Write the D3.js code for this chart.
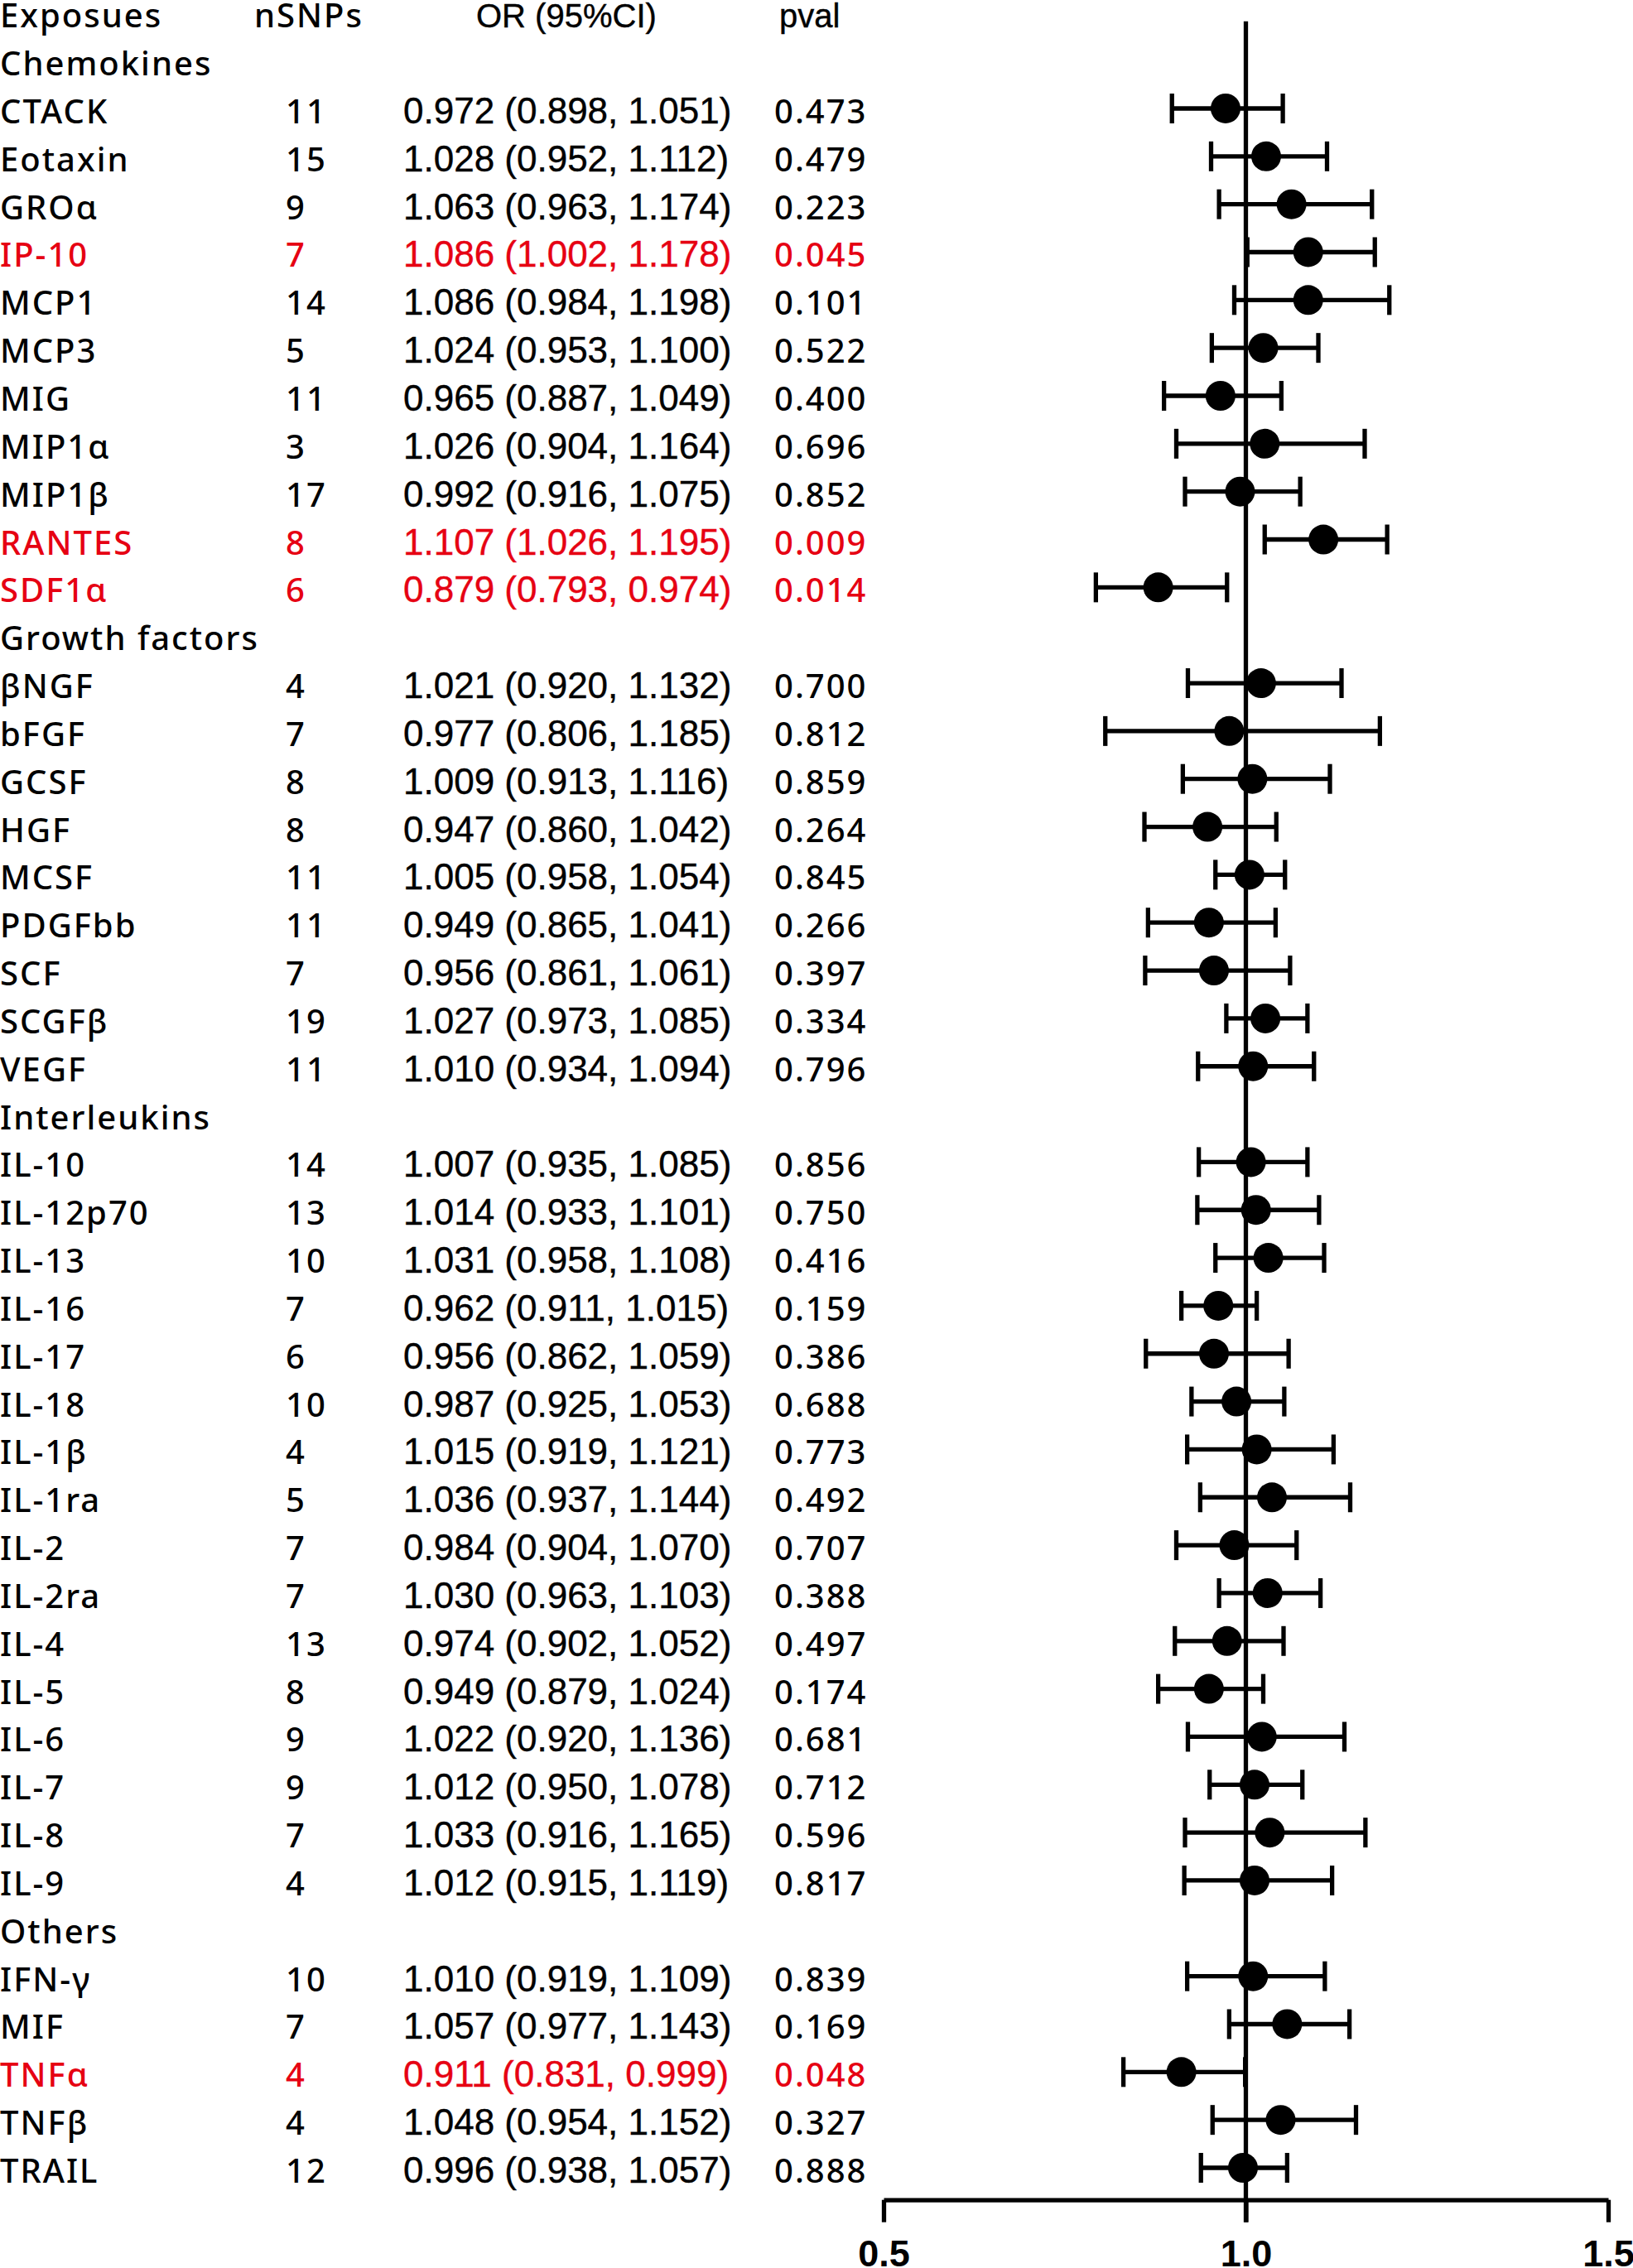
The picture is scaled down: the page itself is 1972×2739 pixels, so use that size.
<!DOCTYPE html>
<html lang="en">
  <head>
    <meta charset="UTF-8" />
    <title>Forest plot - cytokines</title>
    <script src="https://d3js.org/d3.v7.min.js"></script>
    <style>
      body {
        margin: 0;
        background: #fff;
      }
      svg {
        display: block;
        background: #fff;
      }
      .lab {
        font-family: "Noto Sans", sans-serif;
        font-size: 40px;
        font-weight: 500;
        letter-spacing: 2px;
        stroke-width: 0;
      }
      .num {
        font-family: "Liberation Sans", Arial, sans-serif;
        font-size: 44px;
        stroke-width: 0.4px;
      }
    </style>
  </head>
  <body>
    <svg id="forest" width="1972" height="2739"></svg>

    <script>
      // ---- data ----
      const groups = ["Chemokines", "Growth factors", "Interleukins", "Others"];

      const exposures = [
        "CTACK", "Eotaxin", "GROα", "IP-10", "MCP1", "MCP3", "MIG", "MIP1α", "MIP1β", "RANTES", "SDF1α",
        "βNGF", "bFGF", "GCSF", "HGF", "MCSF", "PDGFbb", "SCF", "SCGFβ", "VEGF",
        "IL-10", "IL-12p70", "IL-13", "IL-16", "IL-17", "IL-18", "IL-1β", "IL-1ra", "IL-2", "IL-2ra",
        "IL-4", "IL-5", "IL-6", "IL-7", "IL-8", "IL-9",
        "IFN-γ", "MIF", "TNFα", "TNFβ", "TRAIL",
      ];
      const exposureGroup = [
        0, 0, 0, 0, 0, 0, 0, 0, 0, 0, 0,
        1, 1, 1, 1, 1, 1, 1, 1, 1,
        2, 2, 2, 2, 2, 2, 2, 2, 2, 2, 2, 2, 2, 2, 2, 2,
        3, 3, 3, 3, 3,
      ];
      const nSNPs = [
        11, 15, 9, 7, 14, 5, 11, 3, 17, 8, 6,
        4, 7, 8, 8, 11, 11, 7, 19, 11,
        14, 13, 10, 7, 6, 10, 4, 5, 7, 7, 13, 8, 9, 9, 7, 4,
        10, 7, 4, 4, 12,
      ];
      const orValues = [
        0.972, 1.028, 1.063, 1.086, 1.086, 1.024, 0.965, 1.026, 0.992, 1.107, 0.879,
        1.021, 0.977, 1.009, 0.947, 1.005, 0.949, 0.956, 1.027, 1.01,
        1.007, 1.014, 1.031, 0.962, 0.956, 0.987, 1.015, 1.036, 0.984, 1.03, 0.974, 0.949, 1.022, 1.012, 1.033, 1.012,
        1.01, 1.057, 0.911, 1.048, 0.996,
      ];
      const ciLower = [
        0.898, 0.952, 0.963, 1.002, 0.984, 0.953, 0.887, 0.904, 0.916, 1.026, 0.793,
        0.92, 0.806, 0.913, 0.86, 0.958, 0.865, 0.861, 0.973, 0.934,
        0.935, 0.933, 0.958, 0.911, 0.862, 0.925, 0.919, 0.937, 0.904, 0.963, 0.902, 0.879, 0.92, 0.95, 0.916, 0.915,
        0.919, 0.977, 0.831, 0.954, 0.938,
      ];
      const ciUpper = [
        1.051, 1.112, 1.174, 1.178, 1.198, 1.1, 1.049, 1.164, 1.075, 1.195, 0.974,
        1.132, 1.185, 1.116, 1.042, 1.054, 1.041, 1.061, 1.085, 1.094,
        1.085, 1.101, 1.108, 1.015, 1.059, 1.053, 1.121, 1.144, 1.07, 1.103, 1.052, 1.024, 1.136, 1.078, 1.165, 1.119,
        1.109, 1.143, 0.999, 1.152, 1.057,
      ];
      const pValues = [
        0.473, 0.479, 0.223, 0.045, 0.101, 0.522, 0.4, 0.696, 0.852, 0.009, 0.014,
        0.7, 0.812, 0.859, 0.264, 0.845, 0.266, 0.397, 0.334, 0.796,
        0.856, 0.75, 0.416, 0.159, 0.386, 0.688, 0.773, 0.492, 0.707, 0.388, 0.497, 0.174, 0.681, 0.712, 0.596, 0.817,
        0.839, 0.169, 0.048, 0.327, 0.888,
      ];
      const headers = ["Exposues", "nSNPs", "OR (95%CI)", "pval"];
      const xTicks = [0.5, 1.0, 1.5];

      // ---- layout ----
      const svg = d3.select("#forest");
      const RED = "#e60012";
      const f3 = d3.format(".3f");

      // rows: header, then each group title followed by its exposures
      const rows = [{ type: "header" }];
      groups.forEach((g, gi) => {
        rows.push({ type: "group", name: g });
        exposures.forEach((e, i) => {
          if (exposureGroup[i] === gi) rows.push({ type: "item", i });
        });
      });
      rows.forEach((r, k) => (r.k = k));

      const y = d3.scaleLinear().domain([0, rows.length - 1]).range([15.3, 2618]);
      const x = d3.scaleLinear().domain([0.5, 1.5]).range([1067, 1942]);
      const base = 18; // text baseline below row centre

      // header texts
      const hy = y(0) + base;
      const head = svg.append("g").attr("fill", "#000").attr("stroke", "#000");
      head.append("text").attr("class", "lab").attr("x", 0).attr("y", hy).text(headers[0]);
      head.append("text").attr("class", "lab").attr("x", 307).attr("y", hy).text(headers[1]);
      head.append("text").attr("class", "num").style("font-size", "40px").attr("x", 575).attr("y", hy).text(headers[2]);
      head.append("text").attr("class", "num").style("font-size", "40px").attr("x", 941).attr("y", hy).text(headers[3]);

      // group titles
      svg
        .append("g")
        .attr("fill", "#000")
        .selectAll("text")
        .data(rows.filter((r) => r.type === "group"))
        .join("text")
        .attr("class", "lab")
        .attr("x", 0)
        .attr("y", (r) => y(r.k) + base)
        .text((r) => r.name);

      const items = rows.filter((r) => r.type === "item");
      const colour = (r) => (pValues[r.i] < 0.05 ? RED : "#000");

      const rowG = svg
        .selectAll("g.row")
        .data(items)
        .join("g")
        .attr("class", "row")
        .attr("fill", colour)
        .attr("stroke", colour);

      rowG
        .append("text")
        .attr("class", "lab")
        .attr("x", 0)
        .attr("y", (r) => y(r.k) + base)
        .text((r) => exposures[r.i]);
      rowG
        .append("text")
        .attr("class", "lab")
        .attr("x", 345)
        .attr("y", (r) => y(r.k) + base)
        .text((r) => nSNPs[r.i]);
      rowG
        .append("text")
        .attr("class", "num")
        .attr("x", 487)
        .attr("y", (r) => y(r.k) + base)
        .text((r) => `${f3(orValues[r.i])} (${f3(ciLower[r.i])}, ${f3(ciUpper[r.i])})`);
      rowG
        .append("text")
        .attr("class", "lab")
        .attr("x", 935)
        .attr("y", (r) => y(r.k) + base)
        .text((r) => f3(pValues[r.i]));

      // reference line at OR = 1
      const axisY = 2656.7;
      const tickLen = 27;
      svg
        .append("line")
        .attr("x1", x(1))
        .attr("x2", x(1))
        .attr("y1", 25.7)
        .attr("y2", axisY + tickLen)
        .attr("stroke", "#000")
        .attr("stroke-width", 5.3);

      // error bars
      const capH = 18;
      const bars = svg.selectAll("g.bar").data(items).join("g").attr("class", "bar");
      bars
        .append("line")
        .attr("x1", (r) => x(ciLower[r.i]))
        .attr("x2", (r) => x(ciUpper[r.i]))
        .attr("y1", (r) => y(r.k))
        .attr("y2", (r) => y(r.k))
        .attr("stroke", "#000")
        .attr("stroke-width", 5.3);
      [ciLower, ciUpper].forEach((arr) => {
        bars
          .append("line")
          .attr("x1", (r) => x(arr[r.i]))
          .attr("x2", (r) => x(arr[r.i]))
          .attr("y1", (r) => y(r.k) - capH)
          .attr("y2", (r) => y(r.k) + capH)
          .attr("stroke", "#000")
          .attr("stroke-width", 5.3);
      });
      bars
        .append("circle")
        .attr("cx", (r) => x(orValues[r.i]))
        .attr("cy", (r) => y(r.k))
        .attr("r", 18)
        .attr("fill", "#000");

      // x axis
      const axis = d3
        .axisBottom(x)
        .tickValues(xTicks)
        .tickFormat(d3.format(".1f"))
        .tickSize(tickLen)
        .tickSizeOuter(0)
        .tickPadding(21);
      const ax = svg.append("g").attr("transform", `translate(0,${axisY})`).call(axis);
      ax.select(".domain").attr("stroke-width", 5.3);
      ax.selectAll(".tick line").attr("stroke-width", 5.3);
      ax.selectAll(".tick text")
        .attr("font-family", "'Liberation Sans', Arial, sans-serif")
        .attr("font-size", 45)
        .attr("font-weight", "bold")
        .attr("fill", "#000");
      ax.attr("font-family", null).attr("font-size", null);
    </script>
  </body>
</html>
